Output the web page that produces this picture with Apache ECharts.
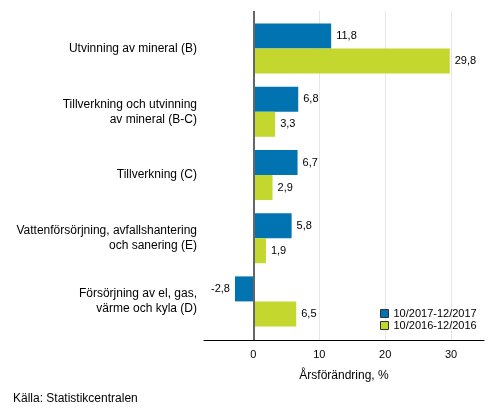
<!DOCTYPE html>
<html>
<head>
<meta charset="utf-8">
<script src="https://cdn.jsdelivr.net/npm/echarts@6/dist/echarts.min.js"></script>
<style>
  html, body { margin: 0; padding: 0; background: #fff; }
  #chart { width: 493px; height: 416px; }
</style>
</head>
<body>
<div id="chart"></div>
<script>
var categories = [
  'Utvinning av mineral (B)',
  'Tillverkning och utvinning\nav mineral (B-C)',
  'Tillverkning (C)',
  'Vattenförsörjning, avfallshantering\noch sanering (E)',
  'Försörjning av el, gas,\nvärme och kyla (D)'
]
var seriesNames = ['10/2017-12/2017', '10/2016-12/2016']
var values2017 = [11.8, 6.8, 6.7, 5.8, -2.8]
var values2016 = [29.8, 3.3, 2.9, 1.9, 6.5]
var xTicks = [0, 10, 20, 30]
var colors = ['#0073b0', '#c3d72f']
var font = "'Liberation Sans', Arial, sans-serif"

// positive values get label right of the bar, negative left
function toItems (arr) {
  return arr.map(function (v) {
    return { value: v, label: { position: v < 0 ? 'left' : 'right' } }
  })
}

function fmt (v) {
  return String(v).replace('.', ',')
}

// vertical line from plot top to axis line, at value v
function vLine (v) {
  return [{ xAxis: v, y: 11 }, { xAxis: v, y: 340 }]
}

var gridLines = xTicks.filter(function (v) { return v !== 0 }).map(vLine)

var chart = echarts.init(document.getElementById('chart'), null, { renderer: 'canvas' })

chart.setOption({
  animation: false,
  textStyle: { fontFamily: font },
  grid: { left: 204, right: 9, top: 17, height: 316, outerBoundsMode: 'none', containLabel: false },
  legend: {
    left: 380,
    top: 308,
    padding: 0,
    orient: 'vertical',
    itemWidth: 8,
    itemHeight: 8,
    itemGap: 1,
    icon: 'rect',
    itemStyle: { borderColor: '#333', borderWidth: 1 },
    textStyle: { fontSize: 11, color: '#000', fontFamily: font },
    data: seriesNames
  },
  xAxis: {
    type: 'value',
    min: -7.5,
    max: 35,
    interval: 2.5,
    offset: 7,
    axisLine: { show: true, onZero: false, lineStyle: { color: '#000', width: 1 } },
    axisTick: { show: false },
    axisLabel: {
      margin: 9,
      fontSize: 11,
      color: '#000',
      fontFamily: font,
      formatter: function (v) {
        return xTicks.indexOf(v) >= 0 ? String(v) : ''
      }
    },
    splitLine: { show: false },
    name: 'Årsförändring, %',
    nameLocation: 'middle',
    nameGap: 30,
    nameTextStyle: { fontSize: 12, color: '#000', fontFamily: font }
  },
  yAxis: {
    type: 'category',
    inverse: true,
    data: categories,
    axisLine: { show: false },
    axisTick: { show: false },
    axisLabel: {
      margin: 7,
      fontSize: 12,
      lineHeight: 15,
      color: '#000',
      align: 'right',
      fontFamily: font
    }
  },
  series: [
    {
      name: seriesNames[0],
      type: 'bar',
      z: 2,
      data: toItems(values2017),
      barWidth: 25,
      barGap: '0%',
      itemStyle: { color: colors[0] },
      label: {
        show: true,
        distance: 5,
        fontSize: 11,
        color: '#000',
        fontFamily: font,
        formatter: function (p) { return fmt(p.value) }
      },
      markLine: {
        silent: true,
        symbol: 'none',
        z: 1,
        animation: false,
        label: { show: false },
        lineStyle: { color: '#e6e6e6', type: 'solid', width: 1 },
        data: gridLines
      }
    },
    {
      name: seriesNames[1],
      type: 'bar',
      z: 2,
      data: toItems(values2016),
      barWidth: 25,
      barGap: '0%',
      itemStyle: { color: colors[1] },
      label: {
        show: true,
        distance: 5,
        fontSize: 11,
        color: '#000',
        fontFamily: font,
        formatter: function (p) { return fmt(p.value) }
      },
      // zero line drawn over the bars
      markLine: {
        silent: true,
        symbol: 'none',
        z: 10,
        animation: false,
        label: { show: false },
        lineStyle: { color: '#666', type: 'solid', width: 2 },
        data: [vLine(0)]
      }
    }
  ],
  graphic: [
    {
      type: 'text',
      left: 13,
      top: 393,
      style: { text: 'Källa: Statistikcentralen', fontSize: 12, fill: '#000', fontFamily: font }
    }
  ]
})
</script>
</body>
</html>
